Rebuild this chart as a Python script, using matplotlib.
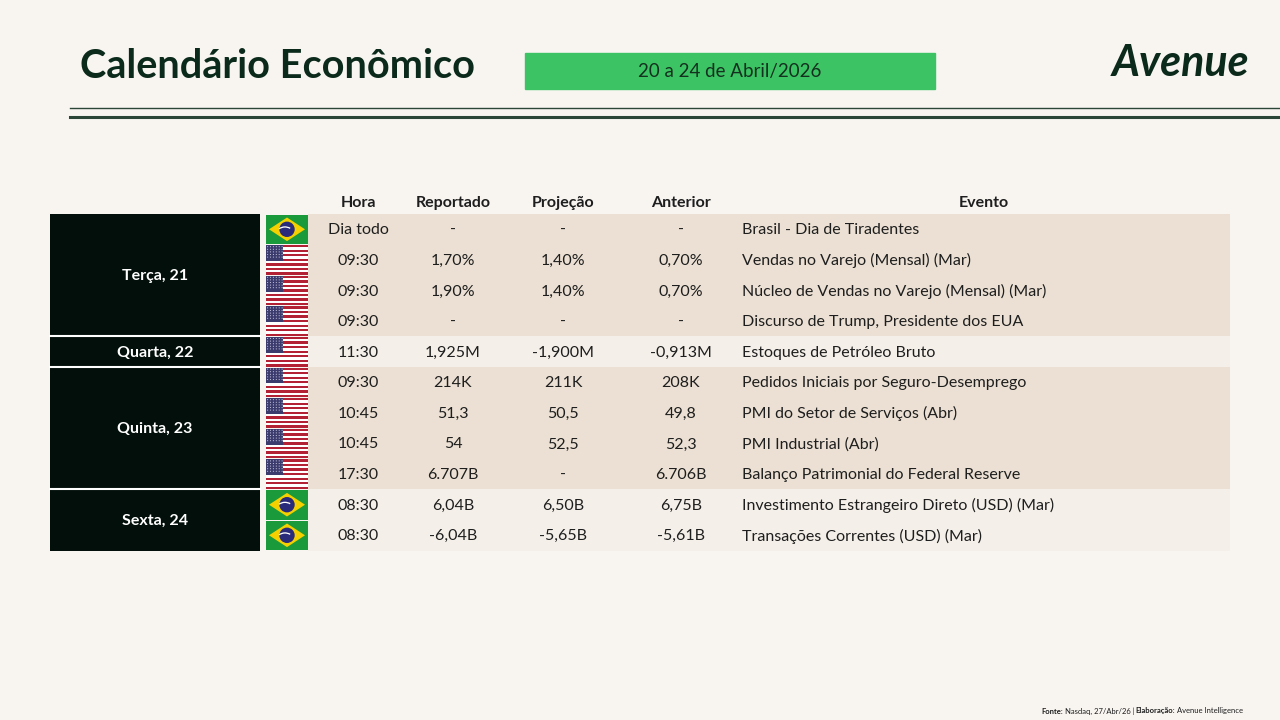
import matplotlib
matplotlib.use("Agg")
import matplotlib.pyplot as plt
from matplotlib.patches import Rectangle, Polygon, Circle, Wedge

# dados da tabela
dias = ["Terça, 21", "Quarta, 22", "Quinta, 23", "Sexta, 24"]
linhas_por_dia = [4, 1, 4, 2]
paises = ["BR", "US", "US", "US", "US", "US", "US", "US", "US", "BR", "BR"]
hora = ["Dia todo", "09:30", "09:30", "09:30", "11:30", "09:30", "10:45", "10:45", "17:30", "08:30", "08:30"]
reportado = ["-", "1,70%", "1,90%", "-", "1,925M", "214K", "51,3", "54", "6.707B", "6,04B", "-6,04B"]
projecao = ["-", "1,40%", "1,40%", "-", "-1,900M", "211K", "50,5", "52,5", "-", "6,50B", "-5,65B"]
anterior = ["-", "0,70%", "0,70%", "-", "-0,913M", "208K", "49,8", "52,3", "6.706B", "6,75B", "-5,61B"]
evento = [
    "Brasil - Dia de Tiradentes",
    "Vendas no Varejo (Mensal) (Mar)",
    "Núcleo de Vendas no Varejo (Mensal) (Mar)",
    "Discurso de Trump, Presidente dos EUA",
    "Estoques de Petróleo Bruto",
    "Pedidos Iniciais por Seguro-Desemprego",
    "PMI do Setor de Serviços (Abr)",
    "PMI Industrial (Abr)",
    "Balanço Patrimonial do Federal Reserve",
    "Investimento Estrangeiro Direto (USD) (Mar)",
    "Transações Correntes (USD) (Mar)",
]
colunas = ["Hora", "Reportado", "Projeção", "Anterior", "Evento"]

# cores
FUNDO = "#f8f5f1"
BEGE = "#ebe0d3"
CLARO = "#f4efe8"
PRETO = "#020f0a"
VERDE_ESC = "#0b2a1c"
TEXTO = "#1e1e1e"

plt.rcParams['font.family'] = ['Lato', 'DejaVu Sans']

fig = plt.figure(figsize=(12.8, 7.2), dpi=100, facecolor=FUNDO)
ax = fig.add_axes([0, 0, 1, 1])
ax.set_xlim(0, 1280)
ax.set_ylim(720, 0)
ax.axis("off")
ax.set_facecolor(FUNDO)

# cabeçalho
ax.text(80, 66, "Calendário Econômico", fontsize=28.5, fontweight="bold",
        color=VERDE_ESC, va="center", ha="left")
ax.add_patch(Rectangle((525, 53), 410, 36, color="#3cc464"))
ax.text(730, 72, "20 a 24 de Abril/2026", fontsize=13.5, color="#14301f",
        va="center", ha="center")
ax.text(1181, 63, "Avenue", fontsize=31, fontweight="bold", fontstyle="italic",
        color=VERDE_ESC, va="center", ha="center")
ax.plot([70, 1280], [108, 108], color="#2b4636", lw=1.0)
ax.plot([70, 1280], [117, 117], color="#2b4636", lw=2.2)

# tabela
y0 = 214
h = 30.6
x_cols = [358, 453, 563, 681]
fs = 11.5

for nome, xc in zip(colunas[:4], x_cols):
    ax.text(xc, 203, nome, fontsize=fs, fontweight="bold", color=TEXTO,
            ha="center", va="center")
ax.text(984, 203, colunas[4], fontsize=fs, fontweight="bold", color=TEXTO,
        ha="center", va="center")


def bandeira_us(x, y, w, hh):
    faixa = hh / 13
    for k in range(13):
        cor = "#b22234" if k % 2 == 0 else "#ffffff"
        ax.add_patch(Rectangle((x, y + k * faixa), w, faixa, color=cor, lw=0))
    ax.add_patch(Rectangle((x, y), w * 0.4, faixa * 7, color="#3c3b6e", lw=0))
    for i in range(6):
        for j in range(5):
            ax.add_patch(Circle((x + 1.6 + i * 2.9, y + 1.6 + j * 2.6), 0.55,
                                color="#c8c8e0", lw=0))


def bandeira_br(x, y, w, hh):
    ax.add_patch(Rectangle((x, y), w, hh, color="#1a9a3a", lw=0))
    cx, cy = x + w / 2, y + hh / 2
    ax.add_patch(Polygon([(x + 3, cy), (cx, y + 3), (x + w - 3, cy), (cx, y + hh - 3)],
                         closed=True, color="#f5d000", lw=0))
    ax.add_patch(Circle((cx, cy), hh * 0.26, color="#2a2a7a", lw=0))
    ax.add_patch(Wedge((cx - 2, cy + 8), 11, 235, 300, width=1.3,
                       color="#ffffff", lw=0))


linha = 0
for g, (dia, n) in enumerate(zip(dias, linhas_por_dia)):
    cor_linha = BEGE if g % 2 == 0 else CLARO
    ytop = y0 + linha * h
    ax.add_patch(Rectangle((308, ytop), 1230 - 308, n * h, color=cor_linha, lw=0))
    ax.add_patch(Rectangle((50, ytop), 210, n * h, color=PRETO, lw=0))
    if g > 0:
        ax.plot([50, 260], [ytop, ytop], color="white", lw=1.5)
    ax.text(155, ytop + n * h / 2 + 1, dia, fontsize=11.5, fontweight="bold",
            color="white", ha="center", va="center")
    linha += n

for i in range(len(hora)):
    yc = y0 + (i + 0.5) * h + 1
    if paises[i] == "US":
        bandeira_us(266, y0 + i * h + 0.5, 42, h - 1)
    else:
        bandeira_br(266, y0 + i * h + 0.5, 42, h - 1)
    for xc, val in zip(x_cols, [hora[i], reportado[i], projecao[i], anterior[i]]):
        ax.text(xc, yc, val, fontsize=fs, color=TEXTO, ha="center", va="center")
    ax.text(742, yc, evento[i], fontsize=fs, color=TEXTO, ha="left", va="center")

# rodapé: partes em negrito e normal, alinhadas da direita para a esquerda
partes = [("Avenue Intelligence", "normal"), ("Elaboração:", "bold"),
          ("Nasdaq, 27/Abr/26 |", "normal"), ("Fonte:", "bold")]
x_dir = 1243
for texto, peso in partes:
    t = ax.text(x_dir, 711, texto, fontsize=5.5, fontweight=peso, color=TEXTO,
                ha="right", va="center")
    fig.canvas.draw()
    bb = t.get_window_extent().transformed(ax.transData.inverted())
    x_dir = bb.x0 - 1.5

fig.savefig("out.png", dpi=100, facecolor=FUNDO)
